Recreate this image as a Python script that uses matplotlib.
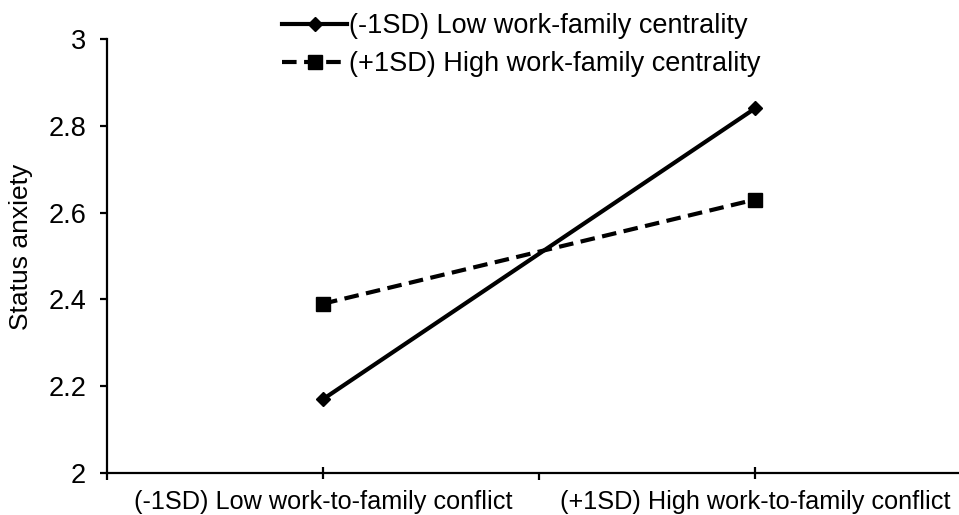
import matplotlib.pyplot as plt

plt.rcParams['font.family'] = ['Liberation Sans', 'DejaVu Sans']

categories = ['(-1SD) Low work-to-family conflict', '(+1SD) High work-to-family conflict']
low_centrality = [2.17, 2.84]
high_centrality = [2.39, 2.63]
series_names = ['(-1SD) Low work-family centrality', '(+1SD) High work-family centrality']

fig = plt.figure(figsize=(9.59, 5.15), dpi=100)
ax = fig.add_axes([107 / 959, 1 - 473 / 515, (971 - 107) / 959, (473 - 39) / 515])

x = [1, 2]
ax.plot(x, low_centrality, color='black', linewidth=3, marker='D', markersize=7,
        label=series_names[0])
ax.plot(x, high_centrality, color='black', linewidth=3, linestyle=(0, (3.5, 1.8)),
        marker='s', markersize=10, label=series_names[1])

ax.set_xlim(0.5, 2.5)
ax.set_ylim(2, 3)
ax.set_yticks([2, 2.2, 2.4, 2.6, 2.8, 3])
ax.set_yticklabels(['2', '2.2', '2.4', '2.6', '2.8', '3'])
ax.set_xticks([0.5, 1.5, 2.5])
ax.set_xticklabels([])
ax.set_xticks(x, minor=True)
ax.set_xticklabels(categories, minor=True)

for s in ['top', 'right']:
    ax.spines[s].set_visible(False)
for s in ['left', 'bottom']:
    ax.spines[s].set_linewidth(1.6)

ax.tick_params(axis='y', direction='out', length=5, width=1.6, labelsize=19.5, pad=10)
ax.tick_params(axis='x', which='major', direction='out', length=5, width=1.6)
ax.tick_params(axis='x', which='minor', direction='inout', length=9, width=1.6,
               labelsize=18.2, pad=8)
ax.set_ylabel('Status anxiety', fontsize=19)
ax.yaxis.set_label_coords(-0.086, 0.52)

leg = fig.legend(loc='upper left', bbox_to_anchor=(258 / 959, 1.022), frameon=False,
                 fontsize=19.5, handlelength=2.4, handletextpad=0.05, labelspacing=0.45)

fig.savefig('out.png', dpi=100)
